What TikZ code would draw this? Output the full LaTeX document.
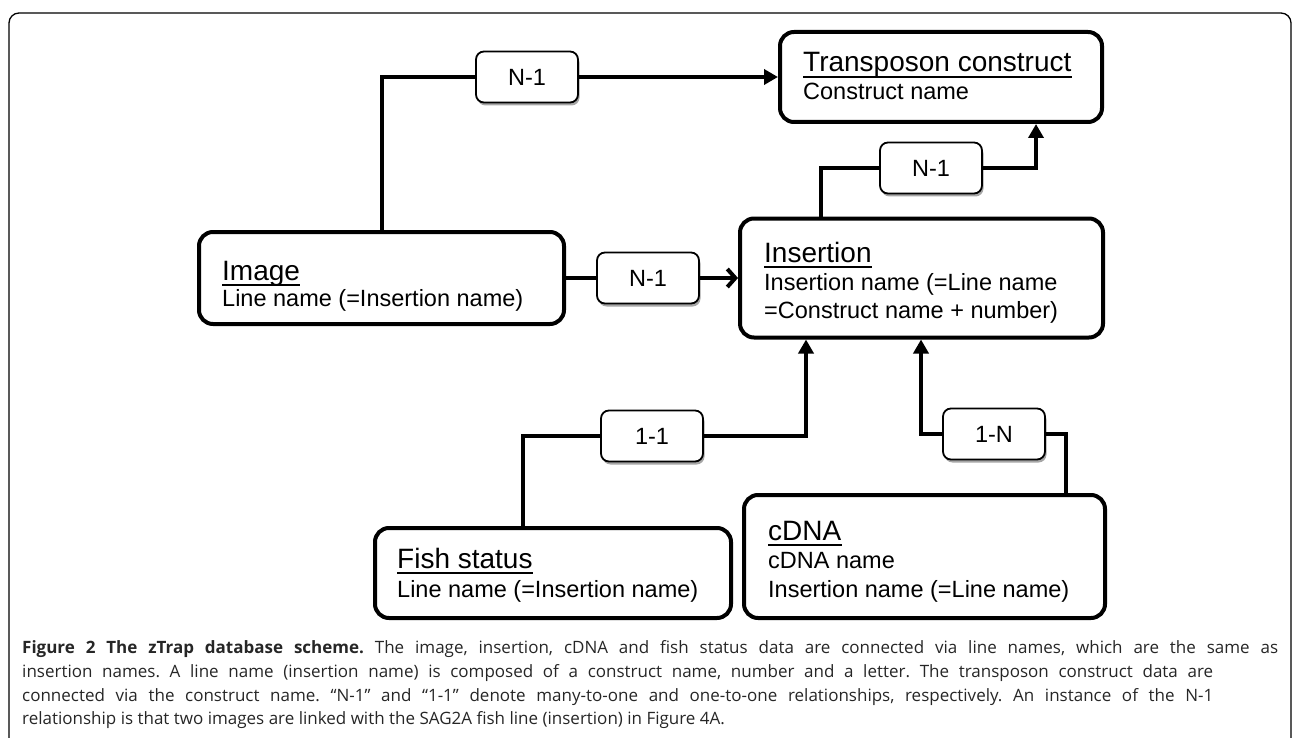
\documentclass[tikz,border=0pt]{standalone}
\usepackage{fontspec}
\setmainfont{Liberation Sans}
\newfontfamily\capfont{Open Sans}
\usetikzlibrary{arrows.meta,shadows}
\begin{document}
\frenchspacing
\begin{tikzpicture}[x=1pt,y=-1pt,
  entity/.style={draw,line width=4pt,rounded corners=14pt,fill=white,inner sep=0pt},
  rel/.style={draw,line width=1.8pt,rounded corners=8pt,fill=white,minimum width=102pt,minimum height=51pt,inner sep=0pt,font=\fontsize{23.5}{26}\selectfont,drop shadow={shadow xshift=1.5pt,shadow yshift=-3pt,fill=black,opacity=0.35}},
  conn/.style={line width=4pt},
  ttl/.style={anchor=base west,inner sep=0pt,font=\fontsize{28}{30}\selectfont},
  bodytxt/.style={anchor=base west,inner sep=0pt,font=\fontsize{23.5}{26}\selectfont},
  uline/.style={line width=1.3pt},
  capline/.style={anchor=base west,inner sep=0pt,font=\capfont\fontsize{17}{20}\selectfont\frenchspacing,text=black!85},
  tri/.style={-{Triangle[width=15pt,length=14pt]}},
  barb/.style={-{Straight Barb[length=8pt,width=18pt]}}
]
\useasboundingbox (0,0) rectangle (1292,738);
\draw[line width=1.3pt,rounded corners=10pt] (9,760) -- (9,13) -- (1291,13) -- (1291,760);

% entity boxes
\node[entity,minimum width=322pt,minimum height=90pt] (trans) at (941,77) {};
\node[entity,minimum width=365pt,minimum height=92pt] (image) at (381.5,278) {};
\node[entity,minimum width=363pt,minimum height=119pt] (ins) at (921.5,278) {};
\node[entity,minimum width=356pt,minimum height=90pt] (fish) at (553,573) {};
\node[entity,minimum width=361pt,minimum height=123pt] (cdna) at (924.5,556.5) {};

% texts
\node[ttl] (transT) at (803,72) {Transposon construct};
\node[bodytxt] (transB) at (803,100) {Construct name};
\node[ttl] (imageT) at (222,280) {Image};
\node[bodytxt] (imageB) at (222,306) {Line name (=Insertion name)};
\node[ttl] (insT) at (764,262) {Insertion};
\node[bodytxt] (insB1) at (764,290) {Insertion name (=Line name};
\node[bodytxt] (insB2) at (764,318) {=Construct name + number)};
\node[ttl] (fishT) at (397,568) {Fish status};
\node[bodytxt] (fishB) at (397,597) {Line name (=Insertion name)};
\node[ttl] (cdnaT) at (768,540) {cDNA};
\node[bodytxt] (cdnaB1) at (768,568) {cDNA name};
\node[bodytxt] (cdnaB2) at (768,597) {Insertion name (=Line name)};
\foreach \t in {transT,imageT,insT,fishT,cdnaT}
  \draw[uline] ([yshift=-5pt]\t.base west) -- ([yshift=-5pt]\t.base east);

% relationship labels
\node[rel] (l1) at (527,77) {N-1};
\node[rel] (l2) at (648,278) {N-1};
\node[rel] (l3) at (931,168) {N-1};
\node[rel] (l4) at (652,436) {1-1};
\node[rel] (l5) at (994,434) {1-N};

% connectors
\draw[conn] (image.north) |- (l1.west);
\draw[conn,tri] (l1.east) -- (trans.west);
\draw[conn] (image.east) -- (l2.west);
\draw[conn,barb] (l2.east) -- (ins.west);
\draw[conn] ([xshift=83pt]ins.north west) |- (l3.west);
\draw[conn,tri] (l3.east) -| ([xshift=258pt]trans.south west);
\draw[conn] ([xshift=150pt]fish.north west) |- (l4.west);
\draw[conn,tri] (l4.east) -| ([xshift=68pt]ins.south west);
\draw[conn] ([xshift=324pt]cdna.north west) |- (l5.east);
\draw[conn,tri] (l5.west) -| ([xshift=183pt]ins.south west);

% caption
\node[capline] (c1) at (22,653) {\makebox[1256pt][s]{\textbf{Figure 2 The zTrap database scheme.} The image, insertion, cDNA and fish status data are connected via line names, which are the same as}};
\node[capline] (c2) at (22,677) {\makebox[1191pt][s]{insertion names. A line name (insertion name) is composed of a construct name, number and a letter. The transposon construct data are}};
\node[capline] (c3) at (22,701) {\makebox[1191pt][s]{connected via the construct name. “N-1” and “1-1” denote many-to-one and one-to-one relationships, respectively. An instance of the N-1}};
\node[capline] (c4) at (22,724) {relationship is that two images are linked with the SAG2A fish line (insertion) in Figure 4A.};
\end{tikzpicture}
\end{document}
